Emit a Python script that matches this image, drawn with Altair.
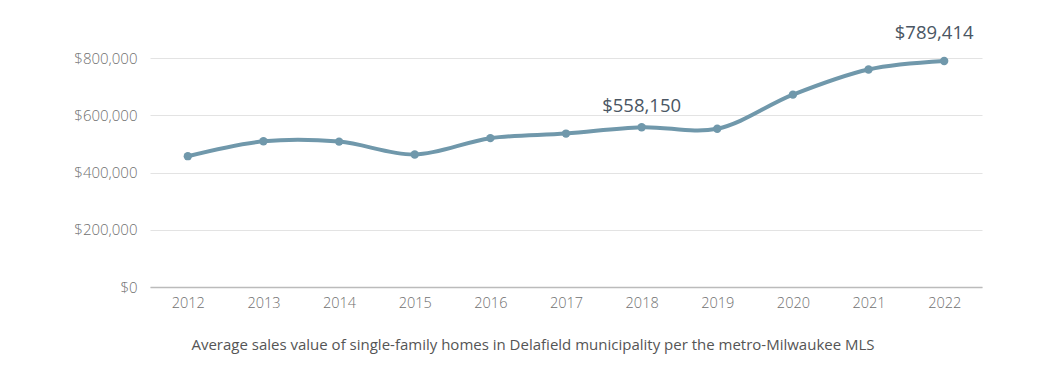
import altair as alt
import pandas as pd

years = ["2012", "2013", "2014", "2015", "2016", "2017", "2018", "2019", "2020", "2021", "2022"]
values = [457000, 509000, 508000, 463000, 520000, 536000, 558150, 553000, 672000, 760000, 789414]
label_years = ["2018", "2022"]
label_texts = ["$558,150", "$789,414"]

df = pd.DataFrame({"year": years, "value": values})
lab = pd.DataFrame({"year": label_years, "value": [values[years.index(y)] for y in label_years], "text": label_texts})

color = "#7098ab"
font = "Open Sans"

x = alt.X("year:O", title=None, sort=years,
          scale=alt.Scale(padding=0.5),
          axis=alt.Axis(labelAngle=0, labelFont=font, labelFontSize=14.5, labelFontWeight=300,
                        labelColor="#707070", labelPadding=9, ticks=False,
                        domainColor="#bbbbbb", domainWidth=1.5, grid=False))
y = alt.Y("value:Q", title=None,
          scale=alt.Scale(domain=[0, 800000], nice=False),
          axis=alt.Axis(values=[0, 200000, 400000, 600000, 800000], format="$,.0f",
                        labelFont=font, labelFontSize=15, labelFontWeight=300,
                        labelColor="#707070", labelPadding=13, ticks=False, domain=False,
                        gridColor="#e3e3e3", gridWidth=1))

line = alt.Chart(df).mark_line(color=color, strokeWidth=4, interpolate="catmull-rom").encode(x=x, y=y)
pts = alt.Chart(df).mark_point(color=color, filled=True, opacity=1, size=70).encode(x=x, y=y)
txt1 = alt.Chart(lab.iloc[[0]]).mark_text(font=font, fontSize=18.5, color="#4a5663",
                                         dy=-21, dx=0, clip=False).encode(x=x, y=y, text="text:N")
txt2 = alt.Chart(lab.iloc[[1]]).mark_text(font=font, fontSize=18.5, color="#4a5663",
                                         dy=-28, dx=-10, clip=False).encode(x=x, y=y, text="text:N")

chart = alt.layer(line, pts, txt1, txt2).properties(
    width=832, height=229,
    background="white",
    autosize=alt.AutoSizeParams(type="none"),
    padding={"left": 142, "top": 50, "right": 65, "bottom": 70},
    title=alt.TitleParams("Average sales value of single-family homes in Delafield municipality per the metro-Milwaukee MLS",
                          orient="bottom", anchor="middle", dx=-33, offset=28,
                          font=font, fontSize=15, fontWeight=400, color="#555555"),
).configure_view(strokeWidth=0, stroke=None)

chart.save("out.html", embed_options={"renderer": "svg", "actions": False})
